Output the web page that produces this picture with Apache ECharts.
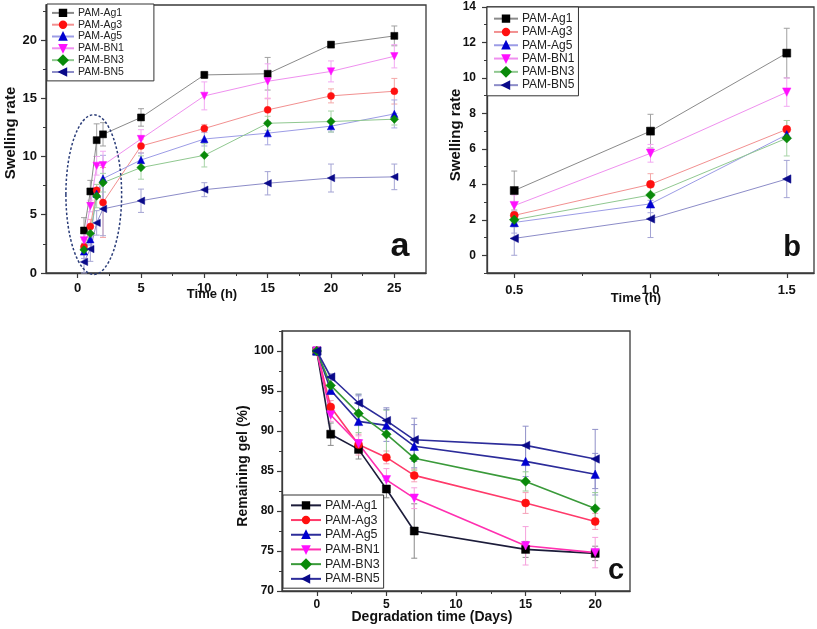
<!DOCTYPE html>
<html><head><meta charset="utf-8">
<script src="https://cdn.jsdelivr.net/npm/echarts@6/dist/echarts.min.js"></script>
<style>html,body{margin:0;padding:0;background:#fff}#c{width:817px;height:629px}</style>
</head><body><div id="c"></div>
<script>
// ---------- data ----------
const seriesNames = ['PAM-Ag1','PAM-Ag3','PAM-Ag5','PAM-BN1','PAM-BN3','PAM-BN5'];

// panel a: swelling rate vs time (h)
const timeA = [0.5, 1, 1.5, 2, 5, 10, 15, 20, 25];
const swellAg1 = [3.65, 7.0, 11.4, 11.9, 13.35, 17.0, 17.1, 19.6, 20.35];
const swellAg3 = [2.25, 4.0, 7.1, 6.05, 10.9, 12.4, 14.0, 15.2, 15.6];
const swellAg5 = [1.85, 2.9, 6.8, 8.1, 9.7, 11.5, 12.0, 12.6, 13.65];
const swellBN1 = [2.8, 5.75, 9.2, 9.25, 11.5, 15.2, 16.45, 17.3, 18.6];
const swellBN3 = [2.0, 3.4, 6.6, 7.75, 9.05, 10.1, 12.85, 13.0, 13.2];
const swellBN5 = [0.95, 2.05, 4.3, 5.5, 6.2, 7.15, 7.7, 8.15, 8.25];
const errAg1 = [1.1, 0.95, 1.4, 1.0, 0.75, 0.3, 1.4, 0.25, 0.85];
const errAg3 = [0.6, 0.6, 0.5, 3.0, 0.6, 0.35, 1.0, 0.6, 1.1];
const errAg5 = [0.6, 0.5, 0.3, 2.0, 0.6, 0.6, 1.0, 0.5, 1.2];
const errBN1 = [0.6, 0.5, 0.8, 1.2, 0.8, 1.2, 1.5, 0.9, 1.0];
const errBN3 = [0.4, 0.5, 1.0, 0.8, 1.0, 1.0, 0.6, 0.9, 0.5];
const errBN5 = [0.95, 1.05, 1.05, 2.3, 1.0, 0.6, 1.0, 1.2, 1.1];

// panel b: first 1.5 h
const timeB = [0.5, 1.0, 1.5];
const earlyAg1 = [3.65, 7.0, 11.4];
const earlyAg3 = [2.25, 4.0, 7.1];
const earlyAg5 = [1.85, 2.9, 6.8];
const earlyBN1 = [2.8, 5.75, 9.2];
const earlyBN3 = [2.0, 3.4, 6.6];
const earlyBN5 = [0.95, 2.05, 4.3];
const earlyErrAg1 = [1.1, 0.95, 1.4];
const earlyErrAg3 = [0.6, 0.6, 0.5];
const earlyErrAg5 = [0.6, 0.5, 0.3];
const earlyErrBN1 = [0.6, 0.5, 0.8];
const earlyErrBN3 = [0.4, 0.5, 1.0];
const earlyErrBN5 = [0.95, 1.05, 1.05];

// panel c: remaining gel (%) vs degradation time (days)
const daysC = [0, 1, 3, 5, 7, 15, 20];
const gelAg1 = [100, 89.6, 87.7, 82.75, 77.5, 75.2, 74.7];
const gelAg3 = [100, 93.0, 88.3, 86.7, 84.45, 81.0, 78.7];
const gelAg5 = [100, 95.1, 91.2, 90.7, 88.1, 86.2, 84.6];
const gelBN1 = [100, 92.0, 88.4, 83.9, 81.6, 75.65, 74.8];
const gelBN3 = [100, 95.7, 92.2, 89.6, 86.6, 83.7, 80.3];
const gelBN5 = [100, 96.75, 93.5, 91.3, 88.9, 88.2, 86.5];
const gelErrAg1 = [0, 1.4, 1.2, 1.1, 3.4, 1.0, 0.9];
const gelErrAg3 = [0, 0.8, 1.3, 0.8, 0.8, 1.3, 1.0];
const gelErrAg5 = [0, 0.5, 3.2, 2.0, 2.7, 1.9, 2.6];
const gelErrBN1 = [0, 0.8, 1.0, 1.4, 1.3, 2.4, 1.9];
const gelErrBN3 = [0, 0.6, 2.4, 3.0, 1.5, 1.2, 2.0];
const gelErrBN5 = [0, 0.4, 1.1, 1.6, 2.7, 2.4, 3.7];

// tick values
const ticksAxMajor = [0, 5, 10, 15, 20, 25];
const ticksAxMinor = [2.5, 7.5, 12.5, 17.5, 22.5];
const ticksAyMajor = [0, 5, 10, 15, 20];
const ticksAyMinor = [2.5, 7.5, 12.5, 17.5, 22.5];
const ticksBxMajor = [0.5, 1.0, 1.5];
const ticksBxMinor = [0.75, 1.25];
const ticksByMajor = [0, 2, 4, 6, 8, 10, 12, 14];
const ticksByMinor = [-1, 1, 3, 5, 7, 9, 11, 13];
const ticksCxMajor = [0, 5, 10, 15, 20];
const ticksCxMinor = [2.5, 7.5, 12.5, 17.5];
const ticksCyMajor = [70, 75, 80, 85, 90, 95, 100];
const ticksCyMinor = [72.5, 77.5, 82.5, 87.5, 92.5, 97.5, 102.5];

// annotation ellipse (data units of panel a)
const ellipseCenter = [1.27, 6.73];
const ellipseRadii = [2.2, 6.85];

// ---------- styles ----------
const FONT = '"Liberation Sans", Arial, Helvetica, sans-serif';
const symbols = ['rect', 'circle', 'triangle', 'triangle', 'rect', 'triangle'];
const symRot = [0, 0, 0, 180, 45, 90];
const symScale = [1, 1, 1.05, 1.05, 0.85, 1.05];
const markerColors = ['#000000', '#ff1010', '#0000d0', '#ff10ff', '#0a8a0a', '#0a0a8a'];
const lineColorsAB = ['#8a8a8a', '#f29090', '#9c9ce6', '#ef90ef', '#90c890', '#8c8cc8'];
const errColorsAB = ['#a0a0a0', '#f4a8a8', '#a8a8e0', '#f2a8f2', '#a8d4a8', '#a4a4d4'];
const lineColorsC = ['#1c1c3a', '#ff3a6a', '#2c2c9a', '#ff30b0', '#3a9a3a', '#2c2c9a'];
const errColorsC = ['#8a8a8a', '#f5a0b8', '#9090d0', '#f6a0dc', '#98cc98', '#9090c8'];

const axisCol = '#3a3a3a';

function axes(gridIndex, dim, min, max, majors, minors, fontSize, margin, fmt) {
  const pos = dim === 'x' ? 'bottom' : 'left';
  const main = {
    type: 'value', gridIndex, min, max, position: pos,
    axisLine: { show: true, onZero: false, lineStyle: { color: axisCol, width: 1.3 } },
    axisTick: { show: true, customValues: majors, length: 5, lineStyle: { color: axisCol, width: 1.2 } },
    axisLabel: { show: true, customValues: majors, fontSize, fontWeight: 'bold', color: '#111',
      fontFamily: FONT, margin, formatter: fmt || (v => String(v)) },
    splitLine: { show: false }
  };
  const minor = {
    type: 'value', gridIndex, min, max, position: pos,
    axisLine: { show: false, onZero: false },
    axisTick: { show: true, customValues: minors, length: 3, lineStyle: { color: axisCol, width: 1 } },
    axisLabel: { show: false }, splitLine: { show: false }
  };
  return [main, minor];
}

function errRender(color, cap) {
  return function (params, api) {
    const x = api.value(0), lo = api.value(1), hi = api.value(2);
    if (hi - lo <= 0) return null;
    const p1 = api.coord([x, hi]), p2 = api.coord([x, lo]);
    const st = { stroke: color, lineWidth: 1 };
    return { type: 'group', children: [
      { type: 'line', shape: { x1: p1[0], y1: p1[1], x2: p2[0], y2: p2[1] }, style: st },
      { type: 'line', shape: { x1: p1[0] - cap, y1: p1[1], x2: p1[0] + cap, y2: p1[1] }, style: st },
      { type: 'line', shape: { x1: p2[0] - cap, y1: p2[1], x2: p2[0] + cap, y2: p2[1] }, style: st }
    ]};
  };
}

function panel(prefix, axisIdx, xs, valsList, errsList, lineColors, errColors, symSize, lw) {
  const out = [];
  valsList.forEach((vals, i) => {
    const errs = errsList[i];
    out.push({
      type: 'custom', xAxisIndex: axisIdx, yAxisIndex: axisIdx, silent: true, z: 2,
      data: xs.map((x, j) => [x, vals[j] - errs[j], vals[j] + errs[j]]),
      renderItem: errRender(errColors[i], 3)
    });
  });
  valsList.forEach((vals, i) => {
    out.push({
      name: prefix + '|' + seriesNames[i], type: 'line', xAxisIndex: axisIdx, yAxisIndex: axisIdx,
      data: xs.map((x, j) => [x, vals[j]]), z: 3,
      symbol: symbols[i], symbolRotate: symRot[i], symbolSize: symSize * symScale[i],
      showAllSymbol: true,
      itemStyle: { color: markerColors[i], borderColor: markerColors[i], borderWidth: 0.5 },
      lineStyle: { color: lineColors[i], width: lw },
      emphasis: { disabled: true }
    });
  });
  return out;
}

const aVals = [swellAg1, swellAg3, swellAg5, swellBN1, swellBN3, swellBN5];
const aErrs = [errAg1, errAg3, errAg5, errBN1, errBN3, errBN5];
const bVals = [earlyAg1, earlyAg3, earlyAg5, earlyBN1, earlyBN3, earlyBN5];
const bErrs = [earlyErrAg1, earlyErrAg3, earlyErrAg5, earlyErrBN1, earlyErrBN3, earlyErrBN5];
const cVals = [gelAg1, gelAg3, gelAg5, gelBN1, gelBN3, gelBN5];
const cErrs = [gelErrAg1, gelErrAg3, gelErrAg5, gelErrBN1, gelErrBN3, gelErrBN5];

const grids = [
  { left: 46, top: 5, width: 380, height: 268 },
  { left: 487, top: 7, width: 327, height: 266 },
  { left: 282, top: 331, width: 348, height: 260 }
].map(g => Object.assign(g, { show: true, borderColor: axisCol, borderWidth: 1.3, backgroundColor: 'transparent' }));

const xAxes = [].concat(
  axes(0, 'x', -2.5, 27.5, ticksAxMajor, ticksAxMinor, 13, 9),
  axes(1, 'x', 0.4, 1.6, ticksBxMajor, ticksBxMinor, 13, 11, v => v.toFixed(1)),
  axes(2, 'x', -2.5, 22.5, ticksCxMajor, ticksCxMinor, 12, 8)
);
const yAxes = [].concat(
  axes(0, 'y', 0, 23, ticksAyMajor, ticksAyMinor, 13, 9),
  axes(1, 'y', -1, 14, ticksByMajor, ticksByMinor, 12, 11),
  axes(2, 'y', 70, 102.5, ticksCyMajor, ticksCyMinor, 12, 8)
);

function legend(prefix, left, top, fontSize, lineH, iw, pad) {
  return {
    show: true, orient: 'vertical', left, top, itemGap: 0, itemWidth: iw, itemHeight: 8,
    padding: pad, borderColor: '#333', borderWidth: 1, backgroundColor: '#fff',
    selectedMode: false, data: seriesNames.map(n => prefix + '|' + n),
    formatter: n => n.split('|')[1],
    textStyle: { fontSize, lineHeight: lineH, color: '#222', fontFamily: FONT, padding: [0, 0, 0, -1] }
  };
}

const series = [].concat(
  panel('a', 0, timeA, aVals, aErrs, lineColorsAB, errColorsAB, 7, 1),
  panel('b', 2, timeB, bVals, bErrs, lineColorsAB, errColorsAB, 8, 1),
  panel('c', 4, daysC, cVals, cErrs, lineColorsC, errColorsC, 8, 1.6)
);

const chart = echarts.init(document.getElementById('c'), null, { renderer: 'canvas' });
chart.setOption({
  animation: false,
  backgroundColor: '#fff',
  grid: grids,
  xAxis: xAxes,
  yAxis: yAxes,
  legend: [
    legend('a', 47, 4, 10.5, 11.8, 22, [3, 30, 3, 4]),
    legend('b', 487, 7, 12, 13.3, 24, [5, 4, 4, 6]),
    legend('c', 283, 495, 12.5, 14.7, 30, [3, 4, 2, 7])
  ],
  series
});

function txt(text, x, y, size, rot) {
  return { type: 'text', x, y, rotation: rot || 0, z: 10,
    style: { text, fill: '#111', fontSize: size, fontWeight: 'bold', fontFamily: FONT,
      align: 'center', verticalAlign: 'middle' } };
}
const c0 = chart.convertToPixel({ gridIndex: 0 }, ellipseCenter);
const c1 = chart.convertToPixel({ gridIndex: 0 }, [ellipseCenter[0] + ellipseRadii[0], ellipseCenter[1] + ellipseRadii[1]]);
chart.setOption({
  graphic: [
    { type: 'ellipse', z: 5, shape: { cx: c0[0], cy: c0[1], rx: Math.abs(c1[0] - c0[0]), ry: Math.abs(c1[1] - c0[1]) },
      style: { fill: 'none', stroke: '#2a3c78', lineWidth: 1.5, lineDash: [2.5, 2] } },
    txt('Swelling rate', 11, 133, 15, Math.PI / 2),
    txt('Time (h)', 212, 294, 13),
    txt('Swelling rate', 456, 135, 15, Math.PI / 2),
    txt('Time (h)', 636, 298, 13),
    txt('Remaining gel (%)', 243, 466, 14, Math.PI / 2),
    txt('Degradation time (Days)', 432, 617, 14),
    txt('a', 400, 247, 34),
    txt('b', 792, 248, 29),
    txt('c', 616, 571, 29)
  ]
});
</script></body></html>
